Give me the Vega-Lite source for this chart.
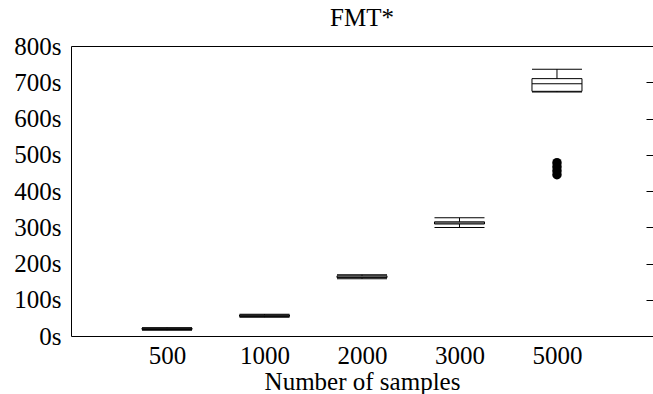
{
  "$schema": "https://vega.github.io/schema/vega-lite/v6.json",
  "autosize": {"type": "none"},
  "padding": {"left": 71, "top": 46, "right": 0, "bottom": 58},
  "width": 582,
  "height": 290,
  "config": {
    "view": {"stroke": "#000", "strokeWidth": 1},
    "font": "Liberation Serif",
    "axis": {"grid": false, "domain": false, "ticks": false, "tickColor": "#000", "labelColor": "#000", "titleColor": "#000", "labelFont": "Liberation Serif", "titleFont": "Liberation Serif", "labelFontSize": 25, "titleFontSize": 25, "titleFontWeight": "normal", "labelOverlap": false}
  },
  "title": {"text": "FMT*", "font": "Liberation Serif", "fontSize": 25, "fontWeight": "normal", "color": "#000", "offset": 3},
  "resolve": {"axis": {"x": "independent", "y": "independent"}},
  "datasets": {
    "boxes": [
      {"n": "500", "lo": 16, "q1": 18, "med": 20, "q3": 22, "hi": 23},
      {"n": "1000", "lo": 52, "q1": 54, "med": 56, "q3": 58, "hi": 60},
      {"n": "2000", "lo": 158, "q1": 161, "med": 163, "q3": 166, "hi": 169},
      {"n": "3000", "lo": 299, "q1": 309, "med": 312, "q3": 315, "hi": 326},
      {"n": "5000", "lo": 673, "q1": 675, "med": 696, "q3": 710, "hi": 736}
    ],
    "outliers": [
      {"n": "5000", "v": 478},
      {"n": "5000", "v": 467},
      {"n": "5000", "v": 456},
      {"n": "5000", "v": 445}
    ]
  },
  "layer": [
    {
      "data": {"name": "boxes"},
      "mark": {"type": "rule", "color": "#000", "strokeWidth": 1},
      "encoding": {
        "x": {"field": "n", "type": "ordinal", "sort": null, "scale": {"type": "point", "padding": 0.985},
              "axis": {"title": "Number of samples", "labelAngle": 0, "labelPadding": 7, "titlePadding": 1}},
        "y": {"field": "lo", "type": "quantitative", "scale": {"domain": [0, 800], "nice": false},
              "axis": {"title": null, "values": [0,100,200,300,400,500,600,700,800], "labelExpr": "datum.value + 's'", "labelPadding": 10}},
        "y2": {"field": "hi"}
      }
    },
    {
      "data": {"name": "boxes"},
      "mark": {"type": "bar", "size": 50, "fill": "#fff", "stroke": "#000", "strokeWidth": 1},
      "encoding": {
        "x": {"field": "n", "type": "ordinal", "sort": null, "axis": null},
        "y": {"field": "q1", "type": "quantitative",
              "axis": {"orient": "right", "title": null, "values": [0,100,200,300,400,500,600,700,800], "labels": false, "ticks": true, "tickSize": 7, "offset": -7}},
        "y2": {"field": "q3"}
      }
    },
    {
      "data": {"name": "boxes"},
      "mark": {"type": "tick", "orient": "horizontal", "size": 50, "thickness": 1, "color": "#000", "opacity": 1},
      "encoding": {
        "x": {"field": "n", "type": "ordinal", "sort": null, "axis": null},
        "y": {"field": "med", "type": "quantitative", "axis": null}
      }
    },
    {
      "data": {"name": "boxes"},
      "mark": {"type": "tick", "orient": "horizontal", "size": 50, "thickness": 1, "color": "#000", "opacity": 1},
      "encoding": {
        "x": {"field": "n", "type": "ordinal", "sort": null, "axis": null},
        "y": {"field": "lo", "type": "quantitative", "axis": null}
      }
    },
    {
      "data": {"name": "boxes"},
      "mark": {"type": "tick", "orient": "horizontal", "size": 50, "thickness": 1, "color": "#000", "opacity": 1},
      "encoding": {
        "x": {"field": "n", "type": "ordinal", "sort": null, "axis": null},
        "y": {"field": "hi", "type": "quantitative", "axis": null}
      }
    },
    {
      "data": {"name": "outliers"},
      "mark": {"type": "circle", "size": 90, "color": "#000", "opacity": 1},
      "encoding": {
        "x": {"field": "n", "type": "ordinal", "sort": null, "axis": null},
        "y": {"field": "v", "type": "quantitative", "axis": null}
      }
    }
  ]
}
